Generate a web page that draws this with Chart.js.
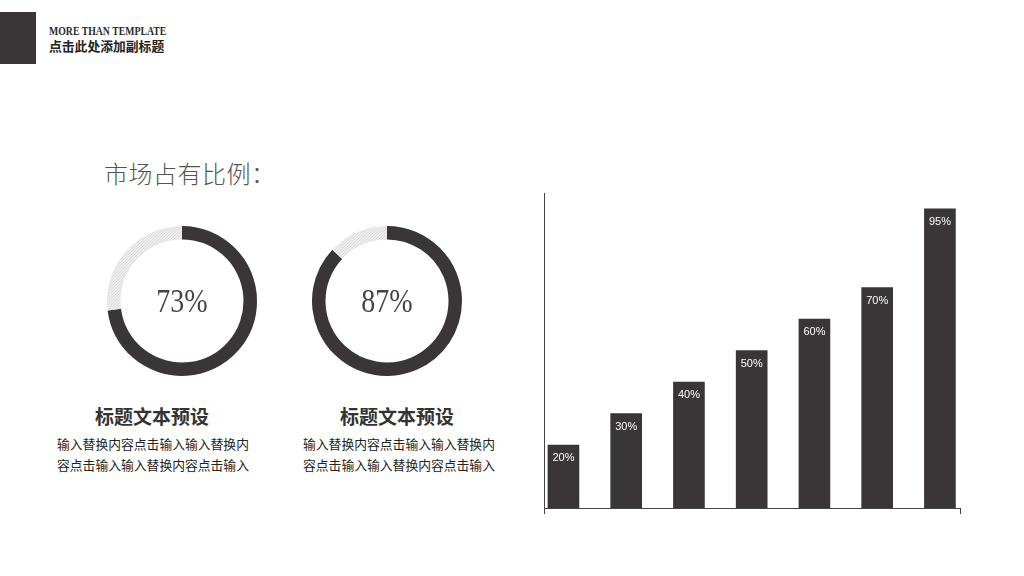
<!DOCTYPE html>
<html>
<head>
<meta charset="utf-8">
<script src="https://cdn.jsdelivr.net/npm/chart.js@4/dist/chart.umd.min.js"></script>
<style>
  html, body { margin: 0; padding: 0; background: #fff; }
  body { width: 1024px; height: 576px; position: relative; overflow: hidden; font-family: "Noto Sans CJK SC", sans-serif; }
  .abs { position: absolute; white-space: nowrap; }
  #mark { left: 0; top: 12px; width: 36px; height: 52px; background: #3a3536; }
  #en { left: 49px; top: 24px; font: bold 11.5px/14px "Liberation Serif", serif; color: #2a2a2a; transform: scaleX(0.85); transform-origin: 0 0; }
  #sub { left: 49px; top: 37.5px; font: bold 12.8px/16px "Noto Sans CJK SC"; color: #222; }
  #title { left: 104px; top: 157.5px; font: 300 24px/30px "Noto Sans CJK SC"; color: #555; letter-spacing: 0.5px; }
  .head { top: 404px; width: 200px; text-align: center; font: bold 19px/24px "Noto Sans CJK SC"; color: #333; }
  .body { top: 434px; font: 12.8px/20.5px "Noto Sans CJK SC"; color: #222; }
  canvas { position: absolute; }
</style>
</head>
<body>
<div id="mark" class="abs"></div>
<div id="en" class="abs">MORE THAN TEMPLATE</div>
<div id="sub" class="abs">点击此处添加副标题</div>
<div id="title" class="abs">市场占有比例：</div>

<div class="abs head" style="left:52px">标题文本预设</div>
<div class="abs body" style="left:57px">输入替换内容点击输入输入替换内<br>容点击输入输入替换内容点击输入</div>
<div class="abs head" style="left:297px">标题文本预设</div>
<div class="abs body" style="left:303px">输入替换内容点击输入输入替换内<br>容点击输入输入替换内容点击输入</div>

<div style="position:absolute;left:102px;top:221px;width:160px;height:160px"><canvas id="ring1"></canvas></div>
<div style="position:absolute;left:307px;top:221px;width:160px;height:160px"><canvas id="ring2"></canvas></div>
<div style="position:absolute;left:520px;top:170px;width:460px;height:360px"><canvas id="bars"></canvas></div>

<script>
// data
const shareA = [73, 27];
const shareB = [87, 13];
const barLabels = ['20%', '30%', '40%', '50%', '60%', '70%', '95%'];
const barValues = [20, 30, 40, 50, 60, 70, 95];

const dark = '#3a3536';

// hatched light grey for the remainder of each ring
function hatch() {
    const c = document.createElement('canvas');
    c.width = 3; c.height = 3;
    const g = c.getContext('2d');
    g.fillStyle = '#eeeeee';
    g.fillRect(0, 0, 3, 3);
    g.strokeStyle = '#dadada';
    g.lineWidth = 1;
    g.beginPath();
    g.moveTo(0, 3); g.lineTo(3, 0);
    g.stroke();
    return g.createPattern(c, 'repeat');
}

const centerText = {
    id: 'centerText',
    afterDraw(chart) {
        const ctx = chart.ctx;
        const meta = chart.getDatasetMeta(0).data[0];
        ctx.save();
        ctx.translate(meta.x, meta.y + 2);
        ctx.scale(0.85, 1);
        ctx.font = '33px "Liberation Serif", serif';
        ctx.fillStyle = '#444';
        ctx.textAlign = 'center';
        ctx.textBaseline = 'middle';
        ctx.fillText(chart.data.datasets[0].data[0] + '%', 0, 0);
        ctx.restore();
    }
};

function ring(id, values) {
    new Chart(document.getElementById(id), {
        type: 'doughnut',
        data: {
            datasets: [{
                data: values,
                backgroundColor: [dark, hatch()],
                borderWidth: 0
            }]
        },
        options: {
            responsive: true,
            maintainAspectRatio: false,
            animation: false,
            cutout: '82%',
            layout: { padding: 5 },
            plugins: { legend: { display: false }, tooltip: { enabled: false } },
            events: []
        },
        plugins: [centerText]
    });
}

ring('ring1', shareA);
ring('ring2', shareB);

// labels inside the top of each bar, plus the little end ticks under the x axis
const barText = {
    id: 'barText',
    afterDatasetsDraw(chart) {
        const ctx = chart.ctx;
        ctx.save();
        ctx.font = '11px "Liberation Sans", Arial, sans-serif';
        ctx.fillStyle = '#fff';
        ctx.textAlign = 'center';
        ctx.textBaseline = 'middle';
        chart.getDatasetMeta(0).data.forEach((bar, i) => {
            ctx.fillText(barLabels[i], bar.x, bar.y + 13);
        });
        const x = chart.scales.x;
        ctx.strokeStyle = '#444';
        ctx.lineWidth = 1;
        ctx.beginPath();
        [x.min, x.max].forEach(v => {
            const px = Math.round(x.getPixelForValue(v)) + 0.5;
            ctx.moveTo(px, x.top);
            ctx.lineTo(px, x.top + 6);
        });
        ctx.stroke();
        ctx.restore();
    }
};

new Chart(document.getElementById('bars'), {
    type: 'bar',
    data: {
        datasets: [{
            data: barValues.map((v, i) => ({ x: i, y: v })),
            backgroundColor: dark,
            barThickness: 31
        }]
    },
    options: {
        responsive: true,
        maintainAspectRatio: false,
        animation: false,
        layout: { padding: { left: 24, right: 20, top: 23, bottom: 22 } },
        scales: {
            x: {
                type: 'linear',
                min: -0.31,
                max: 6.32,
                offset: false,
                ticks: { display: false },
                grid: { display: false, drawTicks: false },
                border: { color: '#444', width: 1 }
            },
            y: {
                min: 0,
                max: 100,
                ticks: { display: false },
                grid: { display: false, drawTicks: false },
                border: { color: '#444', width: 1 }
            }
        },
        plugins: { legend: { display: false }, tooltip: { enabled: false } },
        events: []
    },
    plugins: [barText]
});
</script>
</body>
</html>
